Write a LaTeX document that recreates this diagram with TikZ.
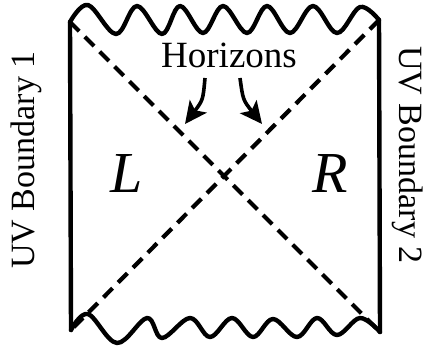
\documentclass[tikz,border=0pt]{standalone}
\usepackage{fontspec}
\setmainfont{Liberation Serif}
\usetikzlibrary{arrows.meta}
\begin{document}
\begin{tikzpicture}[x=1pt,y=-1pt,
  edge/.style={line width=4.4pt,line cap=round,line join=round},
  horizon/.style={line width=4.2pt,dash pattern=on 13pt off 8pt},
  pointer/.style={line width=3.6pt,-{Stealth[length=22pt,width=21pt,inset=5pt]}},
  lbl/.style={inner sep=0pt,font=\fontsize{34}{38}\selectfont},
  reg/.style={inner sep=0pt,font=\fontsize{58}{62}\selectfont\itshape}]
\useasboundingbox (0,0) rectangle (427,350);
% corners
\coordinate (tl) at (70,22);
\coordinate (tr) at (379,20);
\coordinate (bl) at (71,330);
\coordinate (br) at (380,332);
% boundaries
\draw[edge] (tl) -- (bl);
\draw[edge] (tr) -- (br);
% singularities
\draw[edge] plot[smooth,tension=0.6] coordinates {(70,22) (88,5) (116,34) (137,6) (162,34) (180,6) (203,33) (223,6) (247,33) (267,6) (290,33) (313,6) (337,33) (360,7) (379,20)};
\draw[edge] plot[smooth,tension=0.6] coordinates {(71,330) (88,314) (117,343) (147,318) (162,338) (190,318) (210,337) (232,318) (253,337) (273,319) (297,337) (317,318) (337,335) (360,318) (380,332)};
% horizons
\draw[horizon] (tl) -- (br);
\draw[horizon] (tr) -- (bl);
% labels
\node[lbl,font=\fontsize{37}{40}\selectfont,anchor=base] (hz) at (229,67) {Horizons};
\node[lbl,rotate=90,anchor=base] (uv1) at (34,160) {UV Boundary 1};
\node[lbl,rotate=-90,anchor=base] (uv2) at (399,155) {UV Boundary 2};
\node[reg,anchor=base] (L) at (127,192) {L};
\node[reg,anchor=base] (R) at (330,192) {R};
% arrows
\coordinate (s1) at (205,78);
\coordinate (s2) at (240,78);
\coordinate (a1) at (185,124);
\coordinate (a2) at (262,124);
\draw[pointer] (s1) .. controls (203,100) .. (a1);
\draw[pointer] (s2) .. controls (243,100) .. (a2);
\end{tikzpicture}
\end{document}
